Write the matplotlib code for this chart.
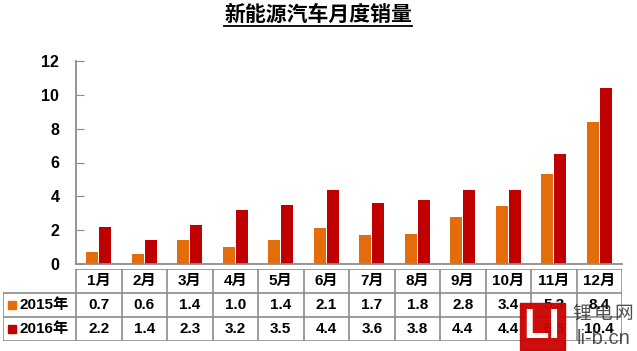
import matplotlib.pyplot as plt
from matplotlib.patches import Rectangle

plt.rcParams['font.family'] = ['Liberation Sans', 'Noto Sans CJK SC', 'DejaVu Sans']

months = ['1月', '2月', '3月', '4月', '5月', '6月', '7月', '8月', '9月', '10月', '11月', '12月']
sales_2015 = [0.7, 0.6, 1.4, 1.0, 1.4, 2.1, 1.7, 1.8, 2.8, 3.4, 5.3, 8.4]
sales_2016 = [2.2, 1.4, 2.3, 3.2, 3.5, 4.4, 3.6, 3.8, 4.4, 4.4, 6.5, 10.4]
series_names = ['2015年', '2016年']
colors = ['#E46C0A', '#C00000']
grey = '#8C8C8C'

W, H = 637, 351
fig = plt.figure(figsize=(W / 100, H / 100), dpi=100)


def box(x0, y0, x1, y1):
    # pixel box (top-left origin) -> figure fraction rect
    return [x0 / W, 1 - y1 / H, (x1 - x0) / W, (y1 - y0) / H]


# bars
ax = fig.add_axes(box(76, 61, 622, 264))
x = range(len(months))
for i, vals in enumerate([sales_2015, sales_2016]):
    ax.bar([k + (i - 0.5) * 0.285 for k in x], vals, width=0.265, color=colors[i])
ax.set_xlim(-0.5, 11.5)
ax.set_ylim(0, 12)
ax.set_yticks(range(0, 13, 2))
ax.set_xticks([])
for s in ['top', 'right']:
    ax.spines[s].set_visible(False)
for s in ['left', 'bottom']:
    ax.spines[s].set_color(grey)
    ax.spines[s].set_linewidth(1.3)
ax.tick_params(axis='y', direction='in', length=6, color=grey, pad=12,
               labelsize=11.5)
for t in ax.get_yticklabels():
    t.set_fontweight('bold')

title = fig.text(318 / W, 1 - 14 / H, '新能源汽车月度销量', ha='center', va='center',
                 fontsize=15, fontweight='bold', family=['Noto Sans CJK SC'])
fig.canvas.draw()
bb = title.get_window_extent()
fig.add_artist(plt.Line2D([bb.x0 / W, bb.x1 / W], [1 - 25.5 / H, 1 - 25.5 / H],
                          color='black', lw=1.3))

# data table
tb = fig.add_axes(box(3, 269, 622, 341))
left = -0.5 - 73 / 45.5
tb.set_xlim(left, 11.5)
tb.set_ylim(3, 0)
tb.axis('off')
lk = dict(color=grey, lw=1.2)
tb.plot([-0.5, 11.5], [0, 0], **lk)
for yy in [1, 2, 3]:
    tb.plot([left, 11.5], [yy, yy], **lk)
tb.plot([left, left], [1, 3], **lk)
for k in range(13):
    tb.plot([k - 0.5, k - 0.5], [0, 3], **lk)
for k, m in enumerate(months):
    tb.text(k, 0.5, m, ha='center', va='center', fontsize=11, fontweight='bold')
for r, vals in enumerate([sales_2015, sales_2016]):
    for k, v in enumerate(vals):
        tb.text(k, r + 1.5, f'{v:.1f}', ha='center', va='center',
                fontsize=11, fontweight='bold')
    tb.add_patch(Rectangle((left + 0.1, r + 1.33), 0.18, 0.34, color=colors[r]))
    tb.text(left + 0.37, r + 1.5, series_names[r], ha='left', va='center',
            fontsize=11, fontweight='bold')

# watermark
fig.add_artist(Rectangle((520 / W, 1 - 350 / H), 45 / W, 47 / H,
                         color='#CC0000', alpha=0.95))
fig.text(542 / W, 1 - 327 / H, 'LI', ha='center', va='center', color='white',
         fontsize=30, fontweight='bold', family=['Liberation Sans'])
for ch, cx in zip('锂电网', [582, 603, 624]):
    fig.text(cx / W, 1 - 313 / H, ch, ha='center', va='center',
             color='#333333', fontsize=13.5, family=['Noto Sans CJK SC'], alpha=0.85)
fig.text(604 / W, 1 - 338 / H, 'li-b.cn', ha='center', va='center',
         color='#333333', fontsize=14.5, alpha=0.85)

fig.savefig('out.png', dpi=100)
